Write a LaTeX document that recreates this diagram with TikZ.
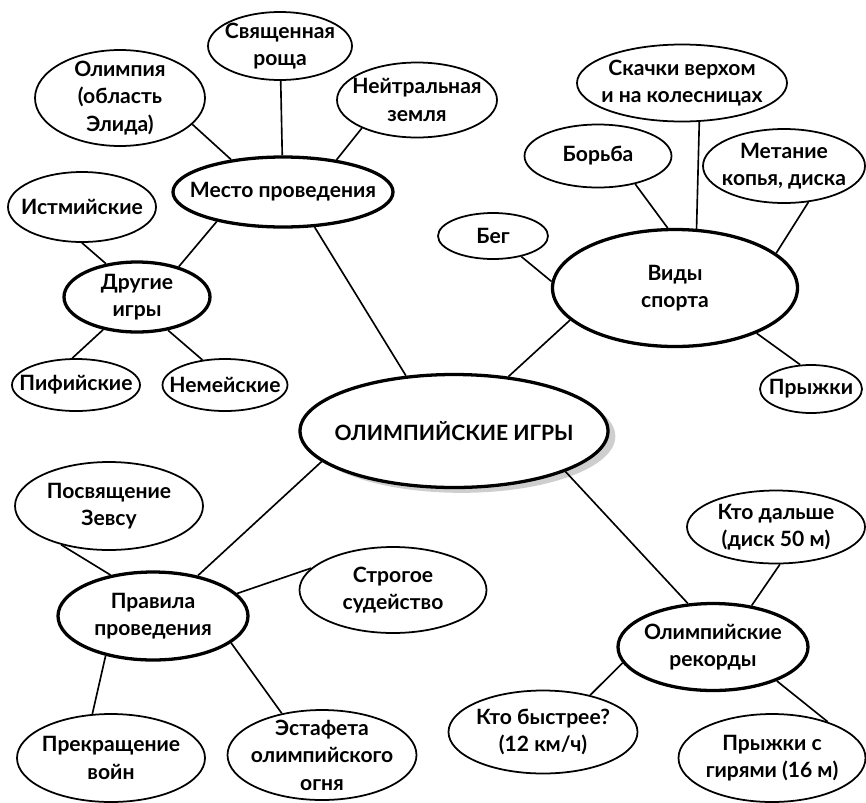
\documentclass[tikz,border=0pt]{standalone}
\usepackage{fontspec}
\setmainfont{Lato}
\usetikzlibrary{shapes.geometric,shadows}

\tikzset{
    idea/.style 2 args={draw, ellipse, inner sep=-20pt, line width=1.5pt,
        minimum width=#1*0.03cm, minimum height=#2*0.03cm, align=center,
        font=\fontsize{18}{23.5}\selectfont\bfseries},
    hub/.style={line width=2.8pt},
    link/.style={line width=1.4pt},
}

\begin{document}
\begin{tikzpicture}[x=0.03cm,y=-0.03cm]
    \useasboundingbox (0,0) rectangle (866,802);

    % Место проведения
    \node[idea={170}{96}] (olimp) at (120,98) {Олимпия\\(область\\Элида)};
    \node[idea={144}{68}] (roscha) at (280,46) {Священная\\роща};
    \node[idea={160}{75}] (neutr) at (417,100) {Нейтральная\\земля};
    \node[idea={220}{70},hub] (mesto) at (283,192) {Место проведения};

    % Другие игры
    \node[idea={148}{70}] (istm) at (82,207) {Истмийские};
    \node[idea={146}{70},hub] (drugie) at (137,297) {Другие\\игры};
    \node[idea={128}{52}] (pif) at (76,385) {Пифийские};
    \node[idea={125}{52}] (nem) at (225,385) {Немейские};

    % Виды спорта
    \node[idea={210}{77}] (skachki) at (682,83) {Скачки верхом\\и на колесницах};
    \node[idea={147}{63}] (borba) at (598,156) {Борьба};
    \node[idea={162}{74}] (metanie) at (784,166) {Метание\\копья, диска};
    \node[idea={110}{46}] (beg) at (493,236) {Бег};
    \node[idea={245}{117},hub] (vidy) at (675,288) {Виды\\спорта};
    \node[idea={102}{48}] (pryzhki) at (811,389) {Прыжки};

    \node[idea={308}{113},hub,fill=white,
        drop shadow={shadow xshift=0.22cm,shadow yshift=-0.16cm,fill=gray!70,opacity=0.55},
        font=\fontsize{18}{23}\selectfont\bfseries] (igry) at (454,431) {ОЛИМПИЙСКИЕ ИГРЫ};

    % Правила проведения
    \node[idea={188}{88}] (posv) at (109,506) {Посвящение\\Зевсу};
    \node[idea={190}{88},hub] (pravila) at (153,616) {Правила\\проведения};
    \node[idea={187}{86}] (strog) at (393,590) {Строгое\\судейство};
    \node[idea={188}{88}] (prekr) at (111,758) {Прекращение\\войн};
    \node[idea={189}{90}] (estaf) at (322,755) {Эстафета\\олимпийского\\огня};

    % Олимпийские рекорды
    \node[idea={178}{73}] (dalshe) at (776,527) {Кто дальше\\(диск 50 м)};
    \node[idea={190}{87},hub] (rekordy) at (713,647) {Олимпийские\\рекорды};
    \node[idea={189}{83}] (bystree) at (543,732) {Кто быстрее?\\(12 км/ч)};
    \node[idea={187}{88}] (giri) at (772,758) {Прыжки с\\гирями (16 м)};

    \draw[link] (olimp.-20.6) -- (mesto.148.7);
    \draw[link] (roscha) -- (mesto);
    \draw[link] (neutr.207.4) -- (mesto.31.7);
    \draw[link] (istm.270) -- (drugie.133.3);
    \draw[link] (mesto.204.8) -- (drugie.36.7);
    \draw[link] (drugie.224) -- (pif.98.4);
    \draw[link] (drugie.313) -- (nem.132.6);
    \draw[link] (mesto.312) -- (igry.131.3);

    \draw[link] (skachki.-66.4) -- (vidy.70.3);
    \draw[link] (borba.-37.3) -- (vidy.97.9);
    \draw[link] (metanie.-56.3) -- (vidy.19.4);
    \draw[link] (beg.-36.3) -- (vidy.177.1);
    \draw[link] (vidy.197.6) -- (igry.45);
    \draw[link] (vidy.-29.8) -- (pryzhki.114.6);

    \draw[link] (igry.193) -- (pravila.42.3);
    \draw[link] (posv.219.7) -- (pravila.136.3);
    \draw[link] (pravila.15.9) -- (strog.165.2);
    \draw[link] (pravila.220) -- (prekr.113.8);
    \draw[link] (pravila.-19.9) -- (estaf.134.3);

    \draw[link] (igry.-20.8) -- (rekordy.120);
    \draw[link] (dalshe.-84.4) -- (rekordy.47.7);
    \draw[link] (rekordy.190) -- (bystree.38.9);
    \draw[link] (rekordy.-28.3) -- (giri.33.2);
\end{tikzpicture}
\end{document}
